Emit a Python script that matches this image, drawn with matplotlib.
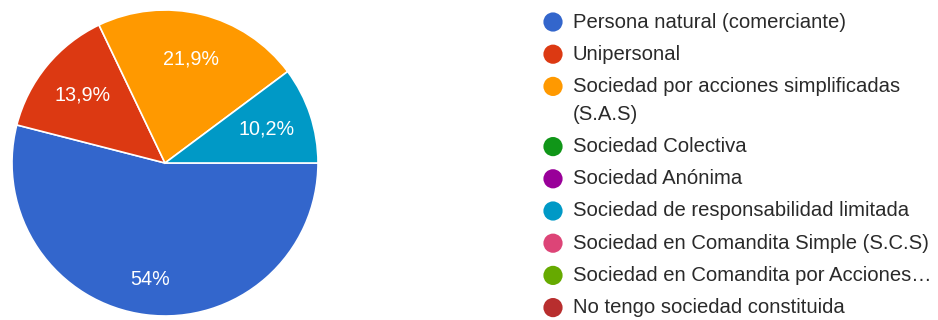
import numpy as np
import matplotlib.pyplot as plt
from matplotlib.patches import Circle

# Survey answers: type of company
categories = [
    "Persona natural (comerciante)",
    "Unipersonal",
    "Sociedad por acciones simplificadas\n(S.A.S)",
    "Sociedad Colectiva",
    "Sociedad Anónima",
    "Sociedad de responsabilidad limitada",
    "Sociedad en Comandita Simple (S.C.S)",
    "Sociedad en Comandita por Acciones…",
    "No tengo sociedad constituida",
]
percentages = [54.0, 13.9, 21.9, 0, 0, 10.2, 0, 0, 0]
pct_labels = ["54%", "13,9%", "21,9%", "", "", "10,2%", "", "", ""]
colors = ["#3366cc", "#dc3912", "#ff9900", "#109618", "#990099",
          "#0099c6", "#dd4477", "#66aa00", "#b82e2e"]

plt.rcParams["font.family"] = ["Liberation Sans", "DejaVu Sans"]

W, H = 938, 320
CX, CY, R = 165, 157, 153
fig = plt.figure(figsize=(W / 100, H / 100), dpi=100)
ax = fig.add_axes([0, 0, 1, 1])

# only the non-empty slices go into the pie
vals = [v for v in percentages if v > 0]
cols = [c for v, c in zip(percentages, colors) if v > 0]
labs = [l for v, l in zip(percentages, pct_labels) if v > 0]

wedges, _ = ax.pie(vals, colors=cols, startangle=0, counterclock=False,
                   center=(CX, CY), radius=R,
                   wedgeprops=dict(edgecolor="white", linewidth=1.2),
                   frame=True)
ax.set_xlim(0, W)
ax.set_ylim(0, H)
ax.set_aspect("equal")
ax.axis("off")

for w, lab in zip(wedges, labs):
    mid = np.deg2rad((w.theta1 + w.theta2) / 2)
    r = R * (0.77 if w.theta2 - w.theta1 > 180 else 0.70)
    ax.text(CX + r * np.cos(mid), CY + r * np.sin(mid), lab,
            ha="center", va="center", color="white", fontsize=14.2)

# legend on the right
y = H - 22
for cat, c in zip(categories, colors):
    ax.add_patch(Circle((553, y), 9.6, color=c, lw=0))
    lines = cat.split("\n")
    for i, line in enumerate(lines):
        ax.text(573, y - 28 * i, line, ha="left", va="center",
                fontsize=14.6, color="#2a2a2a")
    y -= 28 * (len(lines) - 1) + 32.2

fig.savefig("out.png", dpi=100, facecolor="white")
